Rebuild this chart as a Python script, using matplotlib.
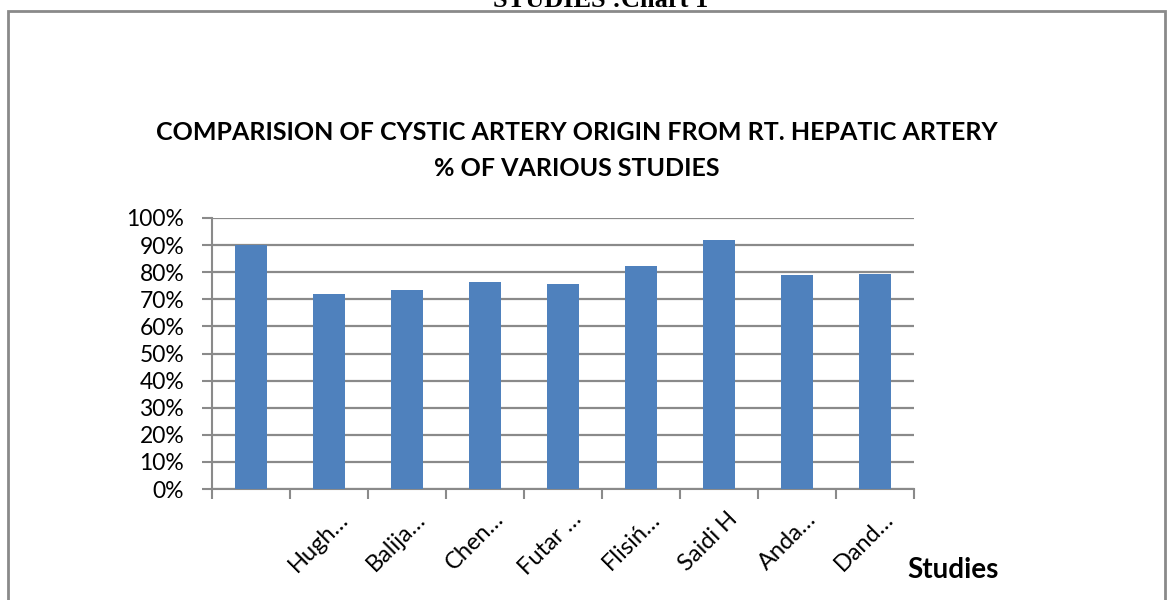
import numpy as np
import matplotlib
matplotlib.use('Agg')
import matplotlib.pyplot as plt
import matplotlib.transforms as mtransforms
from matplotlib.patches import Rectangle
from matplotlib.ticker import PercentFormatter, FixedLocator

# data (first category has no label)
studies = ['', 'Hugh…', 'Balija…', 'Chen…', 'Futar …', 'Flisiń…', 'Saidi H', 'Anda…', 'Dand…']
pct = [90.0, 72.0, 73.4, 76.5, 75.5, 82.3, 91.9, 79.0, 79.4]

plt.rcParams['font.family'] = ['Lato', 'DejaVu Sans']

fig = plt.figure(figsize=(11.73, 6), dpi=100)
ax = fig.add_axes([212 / 1173, 1 - 489 / 600, (914 - 212) / 1173, (489 - 218) / 600])

x = np.arange(len(studies))
ax.bar(x, pct, width=0.4, color='#4F81BD', zorder=3)

ax.set_xlim(-0.5, len(studies) - 0.5)
ax.set_ylim(0, 100)
ax.set_yticks(np.arange(0, 101, 10))
ax.yaxis.set_major_formatter(PercentFormatter(decimals=0))
ax.grid(axis='y', color='#8a8a8a', linewidth=1.6, zorder=0)

ax.set_xticks(x)
ax.set_xticklabels(studies, rotation=45, ha='right', rotation_mode='anchor')
ax.xaxis.set_minor_locator(FixedLocator(np.arange(-0.5, len(studies), 1)))
ax.tick_params(axis='x', which='major', length=0, pad=14, labelsize=17)
ax.tick_params(axis='x', which='minor', length=7, width=1.5, color='#8a8a8a')
ax.tick_params(axis='y', length=7, width=1.5, color='#8a8a8a', labelsize=16.5, pad=13)
shift = mtransforms.ScaledTranslation(8 / 100, 0, fig.dpi_scale_trans)
for lab in ax.get_xticklabels():
    lab.set_transform(lab.get_transform() + shift)
for s in ['top', 'right']:
    ax.spines[s].set_visible(False)
for s in ['left', 'bottom']:
    ax.spines[s].set_color('#8a8a8a')
    ax.spines[s].set_linewidth(1.5)

fig.text(577 / 1173, 1 - 133 / 600, 'COMPARISION OF CYSTIC ARTERY ORIGIN FROM RT. HEPATIC ARTERY',
         ha='center', va='center', fontsize=18, fontweight='bold')
fig.text(577 / 1173, 1 - 168 / 600, '% OF VARIOUS STUDIES',
         ha='center', va='center', fontsize=18, fontweight='bold')
fig.text(953 / 1173, 1 - 570 / 600, 'Studies', ha='center', va='center',
         fontsize=20, fontweight='bold')

# clipped heading above the frame
fig.text(601 / 1173, 1 - 7 / 600, 'STUDIES :Chart 1', ha='center', va='baseline',
         fontsize=19, fontweight='bold', family='Liberation Serif')

fig.patches.append(Rectangle((8 / 1173, -0.05), (1165 - 8) / 1173, 1.05 - 11 / 600,
                             transform=fig.transFigure, fill=False,
                             edgecolor='#8a8a8a', linewidth=2))

fig.savefig('out.png', dpi=100)
